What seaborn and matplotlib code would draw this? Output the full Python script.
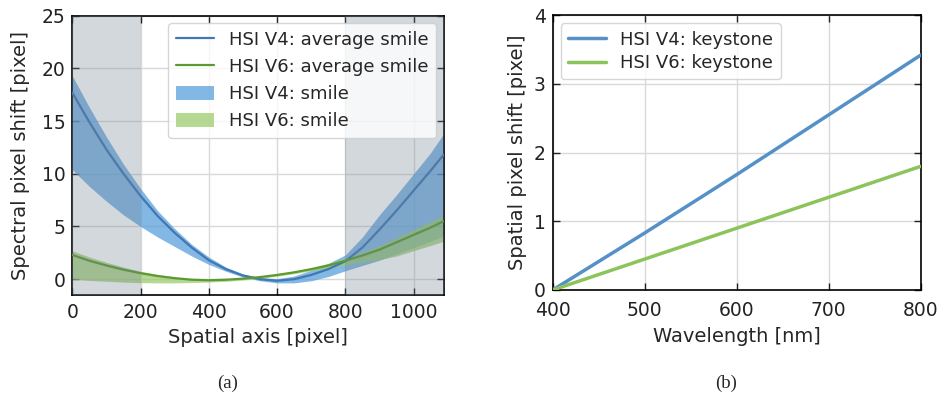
import numpy as np
import pandas as pd
import matplotlib
matplotlib.use("Agg")
import matplotlib.pyplot as plt
import seaborn as sns
from matplotlib.patches import Patch
from matplotlib.lines import Line2D

# ---- data: smile (left panel) ----
spatial_px = [0, 50, 100, 150, 200, 250, 300, 350, 400, 450, 500, 550,
              600, 650, 700, 750, 800, 850, 900, 950, 1000, 1050, 1088]
v4_smile_mean = [17.7, 14.9, 12.3, 10.0, 7.9, 6.0, 4.4, 3.0, 1.8, 0.95, 0.35, 0.0,
                 -0.15, 0.0, 0.4, 0.95, 1.7, 3.0, 4.7, 6.5, 8.4, 10.3, 11.8]
v4_smile_upper = [19.3, 16.3, 13.5, 10.9, 8.6, 6.5, 4.8, 3.3, 2.1, 1.15, 0.5, 0.15,
                  0.05, 0.3, 0.85, 1.5, 2.3, 4.0, 6.1, 8.0, 10.0, 12.0, 13.8]
v4_smile_lower = [10.4, 8.8, 7.4, 6.1, 5.0, 4.0, 3.1, 2.2, 1.4, 0.75, 0.2, -0.15,
                  -0.35, -0.35, -0.15, 0.25, 0.8, 1.3, 1.8, 2.4, 3.0, 3.6, 4.1]
v6_smile_mean = [2.3, 1.75, 1.3, 0.9, 0.57, 0.3, 0.1, -0.05, -0.1, -0.05, 0.05, 0.2,
                 0.4, 0.65, 0.95, 1.3, 1.75, 2.25, 2.8, 3.5, 4.2, 4.9, 5.5]
v6_smile_upper = [2.7, 2.1, 1.6, 1.15, 0.75, 0.45, 0.2, 0.05, -0.02, 0.02, 0.12, 0.28,
                  0.5, 0.75, 1.1, 1.5, 2.0, 2.55, 3.2, 3.9, 4.7, 5.45, 6.1]
v6_smile_lower = [0.0, -0.12, -0.2, -0.28, -0.33, -0.35, -0.35, -0.32, -0.27, -0.2, -0.08, 0.08,
                  0.28, 0.52, 0.8, 1.05, 1.35, 1.6, 1.85, 2.2, 2.7, 3.2, 3.6]
edge_regions = [(0, 200), (800, 1088)]

# ---- data: keystone (right panel) ----
wavelength_nm = [400, 500, 600, 700, 800]
v4_keystone = [0.0, 0.83, 1.68, 2.55, 3.42]
v6_keystone = [0.0, 0.45, 0.90, 1.35, 1.80]

labels_left = ["HSI V4: average smile", "HSI V6: average smile", "HSI V4: smile", "HSI V6: smile"]
labels_right = ["HSI V4: keystone", "HSI V6: keystone"]

sns.set_theme(style="ticks")
plt.rcParams['font.family'] = ['DejaVu Sans']

fig = plt.figure(figsize=(9.39, 3.98), dpi=100)
ax1 = fig.add_axes([0.077, 0.2588, 0.3954, 0.7018])
ax2 = fig.add_axes([0.5886, 0.2714, 0.3919, 0.6902])

c_v4_line = "#3f78b5"
c_v6_line = "#5b9a2e"
c_v4_band = "#5a9fdc"
c_v6_band = "#9dcb6f"

df_l = pd.DataFrame({"x": spatial_px, "v4": v4_smile_mean, "v6": v6_smile_mean})

ax1.fill_between(spatial_px, v4_smile_lower, v4_smile_upper, color=c_v4_band, alpha=0.75, lw=0, zorder=2)
ax1.fill_between(spatial_px, v6_smile_lower, v6_smile_upper, color=c_v6_band, alpha=0.75, lw=0, zorder=2)
sns.lineplot(data=df_l, x="x", y="v4", ax=ax1, color=c_v4_line, lw=1.6, zorder=3)
sns.lineplot(data=df_l, x="x", y="v6", ax=ax1, color=c_v6_line, lw=1.6, zorder=3)
for a, b in edge_regions:
    ax1.axvspan(a, b, color="slategray", alpha=0.3, lw=0, zorder=4)

ax1.set_xlim(0, 1088)
ax1.set_ylim(-1.5, 25)
ax1.set_xticks([0, 200, 400, 600, 800, 1000])
ax1.set_yticks([0, 5, 10, 15, 20, 25])
ax1.set_xlabel("Spatial axis [pixel]", fontsize=14, labelpad=4)
ax1.set_ylabel("Spectral pixel shift [pixel]", fontsize=14, labelpad=8)

h_l = [Line2D([], [], color=c_v4_line, lw=1.6), Line2D([], [], color=c_v6_line, lw=1.6),
       Patch(facecolor=c_v4_band, alpha=0.75, lw=0), Patch(facecolor=c_v6_band, alpha=0.75, lw=0)]
leg1 = ax1.legend(h_l, labels_left, loc="upper right", fontsize=13, frameon=True,
                  borderaxespad=0.4, handlelength=2.1, handleheight=0.8, labelspacing=0.5,
                  borderpad=0.45)
leg1.set_zorder(10)

df_r = pd.DataFrame({"wl": wavelength_nm, "v4": v4_keystone, "v6": v6_keystone})
sns.lineplot(data=df_r, x="wl", y="v4", ax=ax2, color="#5591c8", lw=2.5, zorder=3, label=labels_right[0])
sns.lineplot(data=df_r, x="wl", y="v6", ax=ax2, color="#8cc45c", lw=2.5, zorder=3, label=labels_right[1])
ax2.set_xlim(400, 800)
ax2.set_ylim(0, 4)
ax2.set_xticks([400, 500, 600, 700, 800])
ax2.set_yticks([0, 1, 2, 3, 4])
ax2.set_xlabel("Wavelength [nm]", fontsize=14, labelpad=5)
ax2.set_ylabel("Spatial pixel shift [pixel]", fontsize=14, labelpad=5)
ax2.legend(loc="upper left", fontsize=13, frameon=True, borderaxespad=0.45, handlelength=2.1,
           labelspacing=0.3)

for ax, xpad in ((ax1, 6), (ax2, 8)):
    ax.grid(True, color="#d9d9d9", lw=1.0, zorder=1)
    ax.set_axisbelow(True)
    ax.tick_params(direction="in", top=True, right=True, labelsize=13.5, length=5, width=1,
                   color="black")
    ax.tick_params(axis="x", pad=xpad)
    ax.tick_params(axis="y", pad=5)
    for s in ax.spines.values():
        s.set_color("black")
        s.set_linewidth(1.2)
    ax.tick_params(colors="#222222", labelcolor="#222222")

fig.text(0.2428, 0.036, "(a)", ha="center", va="center", fontsize=13.5, family=["Liberation Serif"])
fig.text(0.773, 0.036, "(b)", ha="center", va="center", fontsize=13.5, family=["Liberation Serif"])

fig.savefig("out.png", dpi=100)
